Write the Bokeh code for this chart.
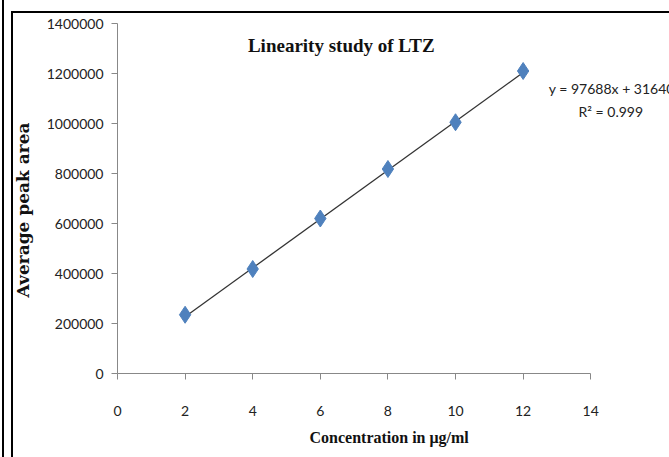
from bokeh.plotting import figure
from bokeh.models import Label, FixedTicker, Range1d, Title
from bokeh.embed import file_html
from bokeh.resources import INLINE

conc = [2, 4, 6, 8, 10, 12]
area = [235000, 418000, 620000, 818000, 1005000, 1210000]
slope = 97688
intercept = 31640
x_ticks = [0, 2, 4, 6, 8, 10, 12, 14]
y_ticks = [0, 200000, 400000, 600000, 800000, 1000000, 1200000, 1400000]

p = figure(width=669, height=457, output_backend="svg", toolbar_location=None,
           x_range=Range1d(0, 16.33), y_range=Range1d(0, 1492000),
           min_border_left=116, min_border_right=0, min_border_top=0, min_border_bottom=84)
p.styles = {
    "background": "linear-gradient(#000,#000) 2px 0px / 2px 100% no-repeat, "
                  "linear-gradient(#000,#000) 11px 11px / 2px 100% no-repeat, "
                  "linear-gradient(#000,#000) 11px 11px / 100% 2px no-repeat, #fff",
}
p.outline_line_color = None
p.grid.visible = False
p.background_fill_color = None
p.border_fill_color = None

for ax in (p.xaxis, p.yaxis):
    ax.axis_line_color = "#888888"
    ax.major_tick_line_color = "#888888"
    ax.minor_tick_line_color = None
    ax.major_tick_in = 0
    ax.major_tick_out = 6
    ax.major_label_text_font = "Lato"
    ax.major_label_text_font_size = "14px"
    ax.major_label_text_color = "#222222"

p.xaxis.ticker = FixedTicker(ticks=x_ticks)
p.yaxis.ticker = FixedTicker(ticks=y_ticks)
p.xaxis.bounds = (0, 14)
p.yaxis.bounds = (0, 1400000)
p.xaxis.major_label_standoff = 26
p.yaxis.major_label_standoff = 8
p.yaxis.formatter.use_scientific = False

p.add_layout(Title(text="Average peak area", align="left", offset=76,
                   text_font="DejaVu Serif", text_font_style="bold",
                   text_font_size="17px", text_color="#111111", standoff=21), "left")

p.add_layout(Title(text="Concentration in \u03bcg/ml", align="left", offset=192,
                   text_font="Liberation Serif", text_font_style="bold",
                   text_font_size="16px", text_color="#111111", standoff=17), "below")

fit_x = [conc[0], conc[-1]]
fit_y = [slope * v + intercept for v in fit_x]
p.line(fit_x, fit_y, line_color="#333333", line_width=1.3)
p.scatter(conc, area, marker="diamond", size=17, fill_color="#4F81BD",
          line_color="#4F81BD")

p.add_layout(Label(x=6.62, y=1312000, text="Linearity study of LTZ",
                   text_font="Liberation Serif", text_font_style="bold",
                   text_font_size="19px", text_align="center", text_baseline="middle",
                   text_color="#111111"))
p.add_layout(Label(x=12.76, y=1140000, text=f"y = {slope}x + {intercept}",
                   text_font="Lato", text_font_size="14px",
                   text_align="left", text_baseline="middle", text_color="#222222"))
p.add_layout(Label(x=13.64, y=1048000, text="R\u00b2 = 0.999",
                   text_font="Lato", text_font_size="14px",
                   text_align="left", text_baseline="middle", text_color="#222222"))

open("out.html", "w").write(file_html(p, INLINE))
